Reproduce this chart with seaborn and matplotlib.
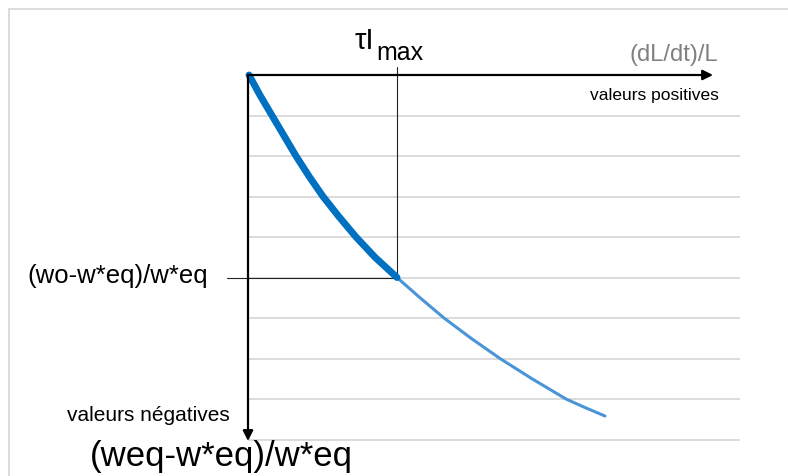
import matplotlib
matplotlib.use("Agg")
import matplotlib.pyplot as plt
import seaborn as sns
import pandas as pd
from matplotlib.lines import Line2D

# ---- data ----
growth = [0.01, 0.12, 0.24, 0.36, 0.48, 0.61, 0.75, 0.91, 1.08, 1.27,
          1.49, 1.72, 1.96, 2.23, 2.52, 2.84, 3.18, 3.36, 3.57]           # (dL/dt)/L
deficit = [0, -0.5, -1, -1.5, -2, -2.5, -3, -3.5, -4, -4.5,
           -5, -5.5, -6, -6.5, -7, -7.5, -8, -8.2, -8.42]                 # (weq-w*eq)/w*eq
split_index = 10           # end of the thick part (tau I max)
grid_levels = [-1, -2, -3, -4, -5, -6, -7, -8, -9]

x_label = "(dL/dt)/L"
x_note = "valeurs positives"
y_label = "(weq-w*eq)/w*eq"
y_note = "valeurs négatives"
marker_label = "(wo-w*eq)/w*eq"
tau_main = "τI"
tau_sub = "max"

sns.set_theme(style="white")
plt.rcParams['font.family'] = ['Liberation Sans', 'DejaVu Sans']

W, H = 788, 476
fig = plt.figure(figsize=(W / 100, H / 100), dpi=100)
ax = fig.add_axes([0, 0, 1, 1])
ax.axis("off")

# pixel layout: origin at (248, 75); 100 px per x unit, 40.5 px per y unit
X0, Y0, SX, SY = 248, 75, 100.0, 40.5
ax.set_xlim(-X0 / SX, (W - X0) / SX)
ax.set_ylim(-(H - Y0) / SY, Y0 / SY)

def px(xp, yp):
    return (xp - X0) / SX, (Y0 - yp) / SY

# outer frame (top & left only)
fc = "#d9d9d9"
fig.add_artist(Line2D([9 / W, 1], [1 - 9 / H, 1 - 9 / H], transform=fig.transFigure, color=fc, lw=1.3))
fig.add_artist(Line2D([9 / W, 9 / W], [0, 1 - 9 / H], transform=fig.transFigure, color=fc, lw=1.3))

# gridlines
grid_right = px(740, 0)[0]
ax.hlines(grid_levels, 0, grid_right, colors="#d9d9d9", lw=1.3, zorder=1)

df = pd.DataFrame({"growth": growth, "deficit": deficit})
thick = df.iloc[:split_index + 1]
thin = df.iloc[split_index:]

sns.lineplot(data=thin, x="growth", y="deficit", ax=ax, color="#4a94d8", lw=2.2,
             sort=False, estimator=None, zorder=3, solid_joinstyle="round")
sns.lineplot(data=thick, x="growth", y="deficit", ax=ax, color="#0070c0", lw=5.0,
             sort=False, estimator=None, zorder=4, solid_capstyle="round",
             solid_joinstyle="round")

# reference lines at tau I max
xm, ym = growth[split_index], deficit[split_index]
ax.plot([xm, xm], [px(0, 67)[1], ym], color="#222222", lw=0.8, zorder=2)
ax.plot([px(227, 0)[0], xm], [ym, ym], color="#222222", lw=0.8, zorder=2)

# axes arrows
ax.annotate("", xy=px(713, 75), xytext=(0, 0),
            arrowprops=dict(arrowstyle="-|>", color="black", lw=1.6, mutation_scale=15,
                            shrinkA=0, shrinkB=0), zorder=5)
ax.annotate("", xy=px(248, 441), xytext=(0, 0),
            arrowprops=dict(arrowstyle="-|>", color="black", lw=1.6, mutation_scale=15,
                            shrinkA=0, shrinkB=0), zorder=5)

# texts
ax.text(*px(718, 61), x_label, ha="right", va="baseline", fontsize=17, color="#808080")
ax.text(*px(719, 100), x_note, ha="right", va="baseline", fontsize=12.5, color="black")
ax.text(*px(374, 49), tau_main, ha="right", va="baseline", fontsize=21, color="black")
ax.text(*px(376, 60), tau_sub, ha="left", va="baseline", fontsize=18, color="black")
ax.text(*px(27, 276), marker_label, ha="left", va="center", fontsize=18.5, color="black")
ax.text(*px(67, 421), y_note, ha="left", va="baseline", fontsize=15, color="black")
ax.text(*px(90, 466), y_label, ha="left", va="baseline", fontsize=25, color="black")

fig.savefig("out.png", dpi=100)
